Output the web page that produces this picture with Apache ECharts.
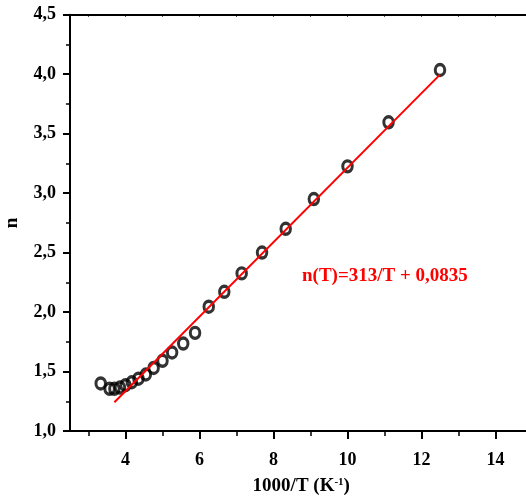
<!DOCTYPE html>
<html>
<head>
<meta charset="utf-8">
<script src="https://cdn.jsdelivr.net/npm/echarts@6/dist/echarts.min.js"></script>
<style>html,body{margin:0;padding:0;background:#fff;}#c{width:526px;height:500px;}</style>
</head>
<body>
<div id="c"></div>
<script>
// measured data: 1000/T (K^-1) and n
var invT = [3.33, 3.57, 3.70, 3.85, 4.00, 4.17, 4.35, 4.55, 4.76, 5.00, 5.26, 5.56, 5.88, 6.25, 6.67, 7.14, 7.69, 8.33, 9.09, 10.00, 11.11, 12.50];
var nVals = [1.40, 1.355, 1.355, 1.365, 1.385, 1.41, 1.44, 1.475, 1.53, 1.59, 1.66, 1.735, 1.825, 2.045, 2.17, 2.325, 2.50, 2.70, 2.95, 3.225, 3.595, 4.035];
// linear fit n(T)=313/T + 0,0835
var fitX = [3.70, 12.50];
var fitY = [1.242, 3.996];
var xMajorTicks = [4, 6, 8, 10, 12, 14];
var xMinorTicks = [3, 5, 7, 9, 11, 13, 15];
var xTopTicks = [3, 4, 5, 6, 7, 8, 9, 10, 11, 12, 13, 14, 15];
var annotation = 'n(T)=313/T + 0,0835';

var FONT = '"Liberation Serif", "Times New Roman", serif';
var chart = echarts.init(document.getElementById('c'), null, {renderer: 'canvas'});
function pairs(xs, ys) { return xs.map(function (x, i) { return [x, ys[i]]; }); }
var xCommon = { type: 'value', min: 2.5, max: 15, splitLine: {show: false} };
chart.setOption({
  animation: false,
  backgroundColor: '#fff',
  grid: { left: 70, top: 14.7, width: 462.5, height: 416.3, containLabel: false, outerBoundsMode: 'none' },
  xAxis: [
    Object.assign({}, xCommon, {
      position: 'bottom',
      name: '1000/T (K{sup|-1})',
      nameLocation: 'middle',
      nameGap: 46,
      nameTextStyle: { fontFamily: FONT, fontWeight: 'bold', fontSize: 19, color: '#000',
        rich: { sup: { fontFamily: FONT, fontWeight: 'bold', fontSize: 11, color: '#000', verticalAlign: 'top', padding: [0, 0, 8, 0] } } },
      axisLine: { show: true, lineStyle: { color: '#000', width: 2 } },
      axisTick: { show: true, inside: false, length: 8, customValues: xMajorTicks, lineStyle: { color: '#000', width: 2 } },
      axisLabel: { show: true, margin: 20, customValues: xMajorTicks, fontFamily: FONT, fontWeight: 'bold', fontSize: 18, color: '#000' }
    }),
    Object.assign({}, xCommon, {
      position: 'bottom',
      axisLine: { show: false },
      axisTick: { show: true, inside: false, length: 5, customValues: xMinorTicks, lineStyle: { color: '#000', width: 1.5 } },
      axisLabel: { show: false }
    }),
    Object.assign({}, xCommon, {
      position: 'top',
      axisLine: { show: true, lineStyle: { color: '#000', width: 2 } },
      axisTick: { show: true, inside: true, length: 2, customValues: xTopTicks, lineStyle: { color: '#000', width: 1 } },
      axisLabel: { show: false }
    })
  ],
  yAxis: {
    type: 'value', min: 1, max: 4.5, interval: 0.5,
    name: 'n', nameLocation: 'middle', nameGap: 48, nameRotate: 90,
    nameTextStyle: { fontFamily: FONT, fontWeight: 'bold', fontSize: 19, color: '#000' },
    splitLine: { show: false },
    axisLine: { show: true, lineStyle: { color: '#000', width: 2 } },
    axisTick: { show: true, inside: false, length: 7, lineStyle: { color: '#000', width: 2 } },
    minorTick: { show: true, splitNumber: 2, length: 4, lineStyle: { color: '#000', width: 1.5 } },
    axisLabel: { margin: 14, fontFamily: FONT, fontWeight: 'bold', fontSize: 18, color: '#000',
      formatter: function (v) { return v.toFixed(1).replace('.', ','); } }
  },
  series: [
    {
      type: 'scatter', xAxisIndex: 0,
      data: pairs(invT, nVals),
      symbol: 'circle', symbolSize: [9.5, 11],
      itemStyle: { color: 'rgba(0,0,0,0)', borderColor: '#000', borderWidth: 3.2 },
      z: 2
    },
    {
      type: 'line', xAxisIndex: 0,
      data: pairs(fitX, fitY),
      symbol: 'none', lineStyle: { color: '#ff0000', width: 2 },
      z: 3
    }
  ],
  graphic: [
    { type: 'text', left: 302, top: 267, style: { text: annotation, fontFamily: FONT, fontWeight: 'bold', fontSize: 19, fill: '#ff0000' } }
  ]
});
</script>
</body>
</html>
